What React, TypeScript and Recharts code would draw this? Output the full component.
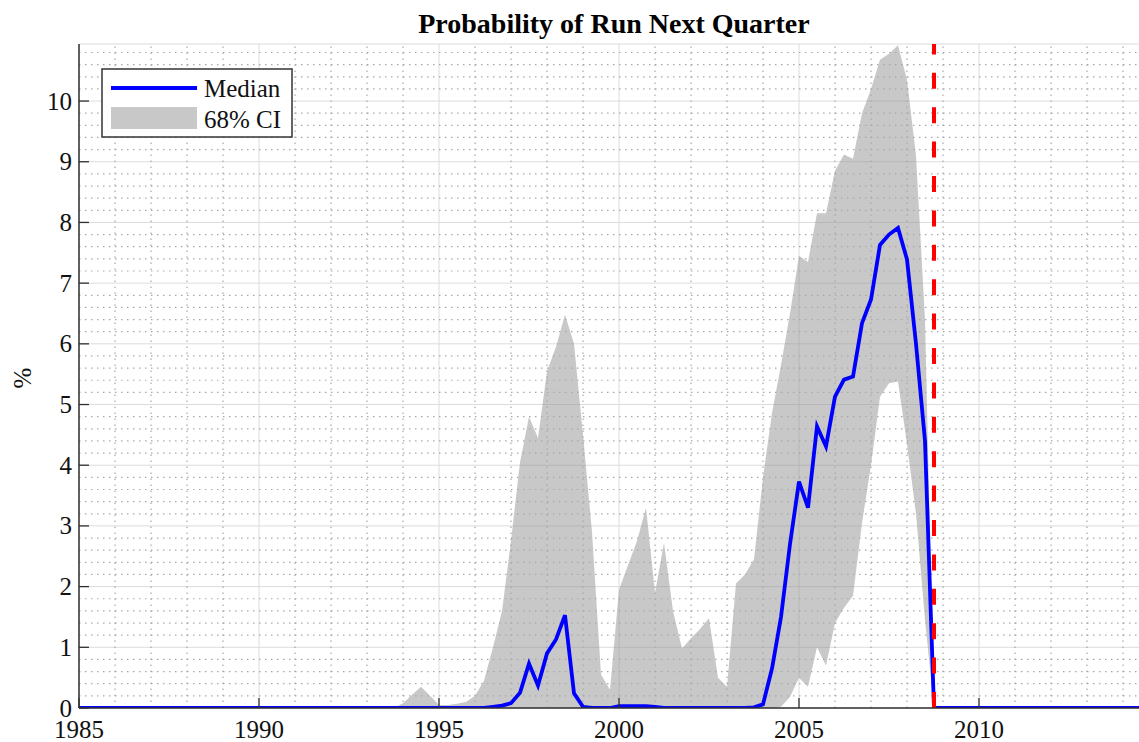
import React from 'react';
import { ComposedChart, Area, Line, XAxis, YAxis, CartesianGrid, ReferenceLine } from 'recharts';

const years = [1985, 1993.5, 1993.75, 1994, 1994.25, 1994.5, 1994.75, 1995, 1995.25, 1995.5, 1995.75, 1996, 1996.25, 1996.5, 1996.75, 1997, 1997.25, 1997.5, 1997.75, 1998, 1998.25, 1998.5, 1998.75, 1999, 1999.25, 1999.5, 1999.75, 2000, 2000.25, 2000.5, 2000.75, 2001, 2001.25, 2001.5, 2001.75, 2002, 2002.25, 2002.5, 2002.75, 2003, 2003.25, 2003.5, 2003.75, 2004, 2004.25, 2004.5, 2004.75, 2005, 2005.25, 2005.5, 2005.75, 2006, 2006.25, 2006.5, 2006.75, 2007, 2007.25, 2007.5, 2007.75, 2008, 2008.25, 2008.5, 2008.75, 2009, 2014.5];

const ciHigh = [0, 0, 0, 0.08, 0.22, 0.35, 0.2, 0.05, 0.05, 0.07, 0.1, 0.2, 0.45, 1.0, 1.6, 2.75, 4.05, 4.8, 4.45, 5.55, 5.95, 6.48, 6.0, 4.5, 2.9, 0.55, 0.3, 1.95, 2.35, 2.75, 3.3, 1.9, 2.72, 1.6, 0.98, 1.15, 1.3, 1.48, 0.5, 0.35, 2.05, 2.2, 2.45, 3.8, 4.86, 5.65, 6.5, 7.45, 7.35, 8.15, 8.15, 8.85, 9.12, 9.05, 9.8, 10.2, 10.68, 10.78, 10.92, 10.35, 9.1, 6.4, 0, 0, 0];

const ciLow = [0, 0, 0, 0, 0, 0, 0, 0, 0, 0, 0, 0, 0, 0, 0, 0, 0, 0, 0, 0, 0, 0, 0, 0, 0, 0, 0, 0, 0, 0, 0, 0, 0, 0, 0, 0, 0, 0, 0, 0, 0, 0, 0, 0, 0, 0.02, 0.18, 0.5, 0.35, 1.0, 0.7, 1.4, 1.65, 1.85, 3.05, 4.0, 5.13, 5.35, 5.38, 4.35, 3.2, 1.45, 0, 0, 0];

const median = [0, 0, 0, 0, 0, 0, 0, 0, 0, 0, 0, 0, 0, 0.02, 0.04, 0.08, 0.25, 0.73, 0.37, 0.9, 1.13, 1.53, 0.24, 0.02, 0, 0, 0, 0.03, 0.03, 0.03, 0.03, 0.02, 0, 0, 0, 0, 0, 0, 0, 0, 0, 0, 0.01, 0.06, 0.65, 1.5, 2.7, 3.73, 3.3, 4.64, 4.31, 5.13, 5.41, 5.46, 6.34, 6.73, 7.63, 7.8, 7.91, 7.39, 6.0, 4.4, 0, 0, 0];

const xTicks = [1985, 1990, 1995, 2000, 2005, 2010];
const yTicks = [0, 1, 2, 3, 4, 5, 6, 7, 8, 9, 10];
const runEvent = 2008.75;

const data = years.map((year, i) => ({ year, median: median[i], ci: [ciLow[i], ciHigh[i]] }));

const minorX: number[] = [];
for (let y = 1986; y <= 2014; y++) if (y % 5 !== 0) minorX.push(y);
const minorY: number[] = [];
for (let i = 1; i <= 54; i++) if (i % 5 !== 0) minorY.push(Math.round(i * 2) / 10);

const FONT = '"Liberation Serif", "Times New Roman", serif';
const AX = '#303030';

const XTick = (props: any) => {
  const { x, y, payload } = props;
  return (
    <g>
      <line x1={x} x2={x} y1={y} y2={y - 10} stroke={AX} strokeWidth={1.3} />
      <text x={x} y={y + 30} textAnchor="middle" fontSize={25} fontFamily={FONT} fill="#111">{payload.value}</text>
    </g>
  );
};

const TopTick = (props: any) => {
  const { x, y } = props;
  return <line x1={x} x2={x} y1={y} y2={y + 10} stroke={AX} strokeWidth={1.3} />;
};

const YTick = (props: any) => {
  const { x, y, payload } = props;
  return (
    <g>
      <line x1={x} x2={x + 10} y1={y} y2={y} stroke={AX} strokeWidth={1.3} />
      <text x={x - 7} y={y + 8.5} textAnchor="end" fontSize={25} fontFamily={FONT} fill="#111">{payload.value}</text>
    </g>
  );
};

export default function App() {
  return (
    <div style={{ position: 'absolute', left: 0, top: 0, width: 1139, height: 742, overflow: 'hidden', background: '#fff' }}>
      <ComposedChart width={1141} height={742} data={data} margin={{ top: 44, right: 0, bottom: 0, left: 0 }}>
        <CartesianGrid stroke="#dcdcdc" strokeWidth={1} />
        {minorY.map((v) => (
          <ReferenceLine key={'my' + v} y={v} stroke="#a8a8a8" strokeWidth={1.2} strokeDasharray="1.5 4.5" />
        ))}
        {minorX.map((v) => (
          <ReferenceLine key={'mx' + v} x={v} stroke="#a8a8a8" strokeWidth={1.2} strokeDasharray="1.5 4.5" />
        ))}
        <XAxis
          dataKey="year"
          type="number"
          domain={[1985, 2014.5]}
          ticks={xTicks}
          height={34}
          tickSize={0}
          tickMargin={0}
          tickLine={false}
          axisLine={{ stroke: AX, strokeWidth: 1.5 }}
          tick={(p: any) => <XTick {...p} />}
          interval={0}
        />
        <XAxis
          xAxisId="top"
          orientation="top"
          dataKey="year"
          type="number"
          domain={[1985, 2014.5]}
          ticks={xTicks}
          height={0}
          tickSize={0}
          tickMargin={0}
          tickLine={false}
          axisLine={{ stroke: AX, strokeWidth: 1.5 }}
          tick={(p: any) => <TopTick {...p} />}
          interval={0}
        />
        <YAxis
          type="number"
          domain={[0, 10.94]}
          ticks={yTicks}
          width={79}
          tickSize={0}
          tickMargin={0}
          tickLine={false}
          axisLine={{ stroke: AX, strokeWidth: 1.5 }}
          tick={(p: any) => <YTick {...p} />}
          interval={0}
          allowDataOverflow
        />
        <Area
          dataKey="ci"
          type="linear"
          stroke="none"
          fill="#929292"
          fillOpacity={0.5}
          isAnimationActive={false}
          activeDot={false}
        />
        <Line
          dataKey="median"
          type="linear"
          stroke="#0000ff"
          strokeWidth={3.8}
          dot={false}
          activeDot={false}
          isAnimationActive={false}
        />
        <ReferenceLine x={runEvent} stroke="#ff0000" strokeWidth={4} strokeDasharray="16 18.4" />
      </ComposedChart>
      <svg width={1139} height={742} style={{ position: 'absolute', left: 0, top: 0, pointerEvents: 'none' }}>
        <text x={614} y={33} textAnchor="middle" fontSize={28} fontWeight="bold" fontFamily={FONT} fill="#000">
          Probability of Run Next Quarter
        </text>
        <text x={0} y={0} transform="translate(31,378) rotate(-90)" textAnchor="middle" fontSize={25} fontFamily={FONT} fill="#111">
          %
        </text>
        <rect x={102} y={69} width={190} height={68} fill="#fff" stroke="#333" strokeWidth={1.5} />
        <line x1={111} x2={197} y1={88} y2={88} stroke="#0000ff" strokeWidth={4} />
        <rect x={111} y={107} width={86} height={22} fill="#c8c8c8" />
        <text x={204} y={97} fontSize={25} fontFamily={FONT} fill="#111">Median</text>
        <text x={204} y={128} fontSize={25} fontFamily={FONT} fill="#111">68% CI</text>
      </svg>
    </div>
  );
}
